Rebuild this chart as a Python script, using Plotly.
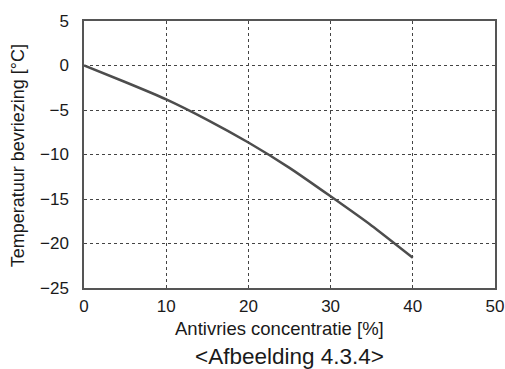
"""
Freezing temperature vs antifreeze concentration
"""

import plotly.graph_objects as go

# concentration [%] and freezing temperature [°C]
concentration = [0, 5, 10, 15, 20, 25, 30, 35, 40]
freeze_temp = [0, -1.85, -3.8, -6.1, -8.65, -11.5, -14.7, -18.0, -21.6]

x_ticks = [0, 10, 20, 30, 40, 50]
y_ticks = [5, 0, -5, -10, -15, -20, -25]

FONT = "Liberation Sans, Arial, sans-serif"
INK = "#1a1a1a"
FRAME = "#555555"

fig = go.Figure()

fig.add_trace(
    go.Scatter(
        x=concentration,
        y=freeze_temp,
        mode="lines",
        line=dict(color="#4d4d4d", width=2.5, shape="spline", smoothing=0.6),
        hoverinfo="skip",
    )
)

fig.update_layout(
    width=505,
    height=369,
    margin=dict(l=84, r=10, t=21, b=81),
    paper_bgcolor="white",
    plot_bgcolor="white",
    showlegend=False,
    font=dict(family=FONT, color=INK, size=17),
    annotations=[
        dict(
            text="Antivries concentratie [%]",
            xref="paper", yref="paper",
            x=0.4745, y=-0.150,
            xanchor="center", yanchor="middle",
            showarrow=False,
            font=dict(size=18.5, family=FONT, color=INK),
        ),
        dict(
            text="&lt;Afbeelding 4.3.4&gt;",
            xref="paper", yref="paper",
            x=0.499, y=-0.255,
            xanchor="center", yanchor="middle",
            showarrow=False,
            font=dict(size=22.5, family=FONT, color=INK),
        ),
        dict(
            text="Temperatuur bevriezing [°C]",
            xref="paper", yref="paper",
            x=-0.160, y=0.494,
            xanchor="center", yanchor="middle",
            textangle=-90,
            showarrow=False,
            font=dict(size=18, family=FONT, color=INK),
        ),
    ],
)

fig.update_xaxes(
    range=[0, 50],
    tickvals=x_ticks,
    ticks="",
    ticklabelstandoff=2,
    automargin=False,
    showgrid=True,
    gridcolor="#444444",
    griddash="dot",
    gridwidth=1,
    zeroline=False,
    showline=True,
    linecolor=FRAME,
    linewidth=1.5,
    mirror=True,
    tickfont=dict(size=17),
)

fig.update_yaxes(
    range=[-25, 5],
    tickvals=y_ticks,
    ticks="",
    ticklabelstandoff=10,
    automargin=False,
    showgrid=True,
    gridcolor="#444444",
    griddash="dot",
    gridwidth=1,
    zeroline=False,
    showline=True,
    linecolor=FRAME,
    linewidth=1.5,
    mirror=True,
    tickfont=dict(size=17),
)

# drop the default page margin so the figure sits at the window's corner
fig.write_html(
    "out.html",
    config={"displayModeBar": False},
    post_script="document.body.style.margin='0';document.body.style.overflow='hidden';",
)
